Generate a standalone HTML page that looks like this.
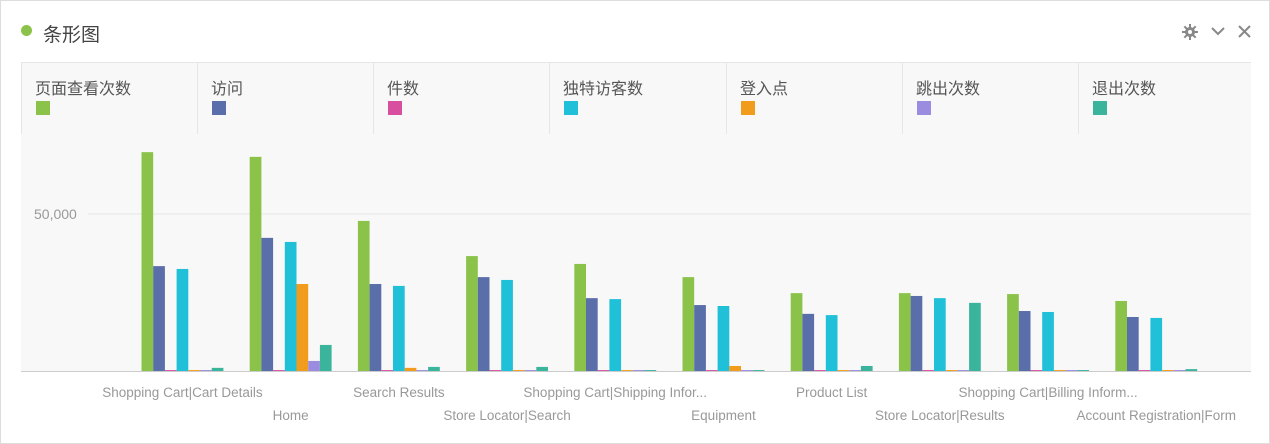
<!DOCTYPE html>
<html><head><meta charset="utf-8">
<style>
body{margin:0;background:#fff;font-family:"Liberation Sans","Noto Sans CJK SC",sans-serif;}
#card{position:absolute;left:0;top:0;width:1268px;height:442px;border:1px solid #ddd;background:#fff;}
.title{position:absolute;left:42px;top:19px;font-size:19px;color:#444;}
.dot{position:absolute;left:20px;top:24px;width:11px;height:11px;border-radius:50%;background:#8bc34a;}
.leg{position:absolute;top:61px;height:72px;border-left:1px solid #e6e6e6;border-top:1px solid #e6e6e6;box-sizing:border-box;}
.leg span{position:absolute;left:13px;top:12px;font-size:16px;color:#555;white-space:nowrap;}
.leg i{position:absolute;left:14px;top:38px;width:14px;height:14px;}
</style></head><body>
<div id="card">
<div class="dot"></div>
<div class="title">条形图</div>
<svg style="position:absolute;left:1180px;top:22px" width="80" height="18">
<g fill="#888"><circle cx="9" cy="9" r="5"/><circle cx="9" cy="9" r="2" fill="#fff"/>
<rect x="8" y="1" width="2" height="16"/><rect x="1" y="8" width="16" height="2"/><rect x="8" y="1" width="2" height="16" transform="rotate(45 9 9)"/><rect x="8" y="1" width="2" height="16" transform="rotate(-45 9 9)"/><circle cx="9" cy="9" r="2" fill="#fff"/></g>
<path d="M31 5 L37 11 L43 5" stroke="#888" stroke-width="2" fill="none"/>
<path d="M58 3 L69 14 M69 3 L58 14" stroke="#888" stroke-width="2"/>
</svg>
<svg id="chart" style="position:absolute;left:0;top:0" width="1268" height="442"></svg>
<div id="legend"></div>
</div>
<script>
const categories=["Shopping Cart|Cart Details","Home","Search Results","Store Locator|Search","Shopping Cart|Shipping Infor...","Equipment","Product List","Store Locator|Results","Shopping Cart|Billing Inform...","Account Registration|Form"];
const seriesNames=["页面查看次数","访问","件数","独特访客数","登入点","跳出次数","退出次数"];
const colors=["#8bc34a","#5a6eaa","#d94fa0","#1fc0d8","#f29c1e","#9b8ce0","#3bb49c"];
const pageViews=[69700,68200,47800,36600,34100,29900,24800,24800,24500,22300];
const visits=[33400,42400,27700,29900,23200,21000,18200,23900,19100,17200];
const items=[300,300,300,300,300,300,300,300,300,300];
const uniqueVisitors=[32500,41100,27100,29000,22900,20700,17800,23200,18800,16900];
const entries=[300,27700,1000,300,300,1600,300,300,300,300];
const bounces=[300,3200,300,300,300,300,300,300,300,300];
const exits=[1000,8300,1300,1300,300,300,1600,21700,300,600];
const series=[pageViews,visits,items,uniqueVisitors,entries,bounces,exits];
const yTicks=[50000];
const yTickLabels=["50,000"];

const NS="http://www.w3.org/2000/svg";
const svg=document.getElementById('chart');
const base=370,pxPer=157/50000,bandStart=127,band=108.2,barW=11.7,padIn=13.5;
const y=v=>base-v*pxPer;
const x=(i,s)=>bandStart+i*band+padIn+s*barW;
function el(t,a){const e=document.createElementNS(NS,t);for(const k in a)e.setAttribute(k,a[k]);svg.appendChild(e);return e;}
const bg=el('rect',{x:20,y:61,width:1230,height:310,fill:'#f8f8f8'});


yTicks.forEach((t,i)=>{
 const g=el('line',{x1:87,x2:1250,y1:y(t),y2:y(t),stroke:'#e6e6e6'});
 
 
 const l=el('text',{x:33,y:y(t)+5,'font-size':14,fill:'#999','font-family':'Liberation Sans, sans-serif'});
 l.textContent=yTickLabels[i];
 
 
});
series.forEach((vals,s)=>{
 vals.forEach((v,i)=>{
  const r=el('rect',{x:x(i,s),y:y(v),width:barW,height:base-y(v),fill:colors[s]});
  
  
 });
});
const ax=el('line',{x1:20,x2:1250,y1:base+0.5,y2:base+0.5,stroke:'#ccc'});


categories.forEach((c,i)=>{
 const t=el('text',{x:bandStart+i*band+padIn+3.5*barW,y:i%2?419:396,'text-anchor':'middle','font-size':13.5,fill:'#999','font-family':'Liberation Sans, sans-serif'});
 t.textContent=c;
 
 
});
const lg=document.getElementById('legend');
const lx=[20,196,372,548,725,901,1077,1250];
seriesNames.forEach((n,i)=>{
 const d=document.createElement('div');
 d.className='leg';
 d.style.left=lx[i]+'px';d.style.width=(lx[i+1]-lx[i])+'px';
 
 
 d.innerHTML='<span>'+n+'</span><i style="background:'+colors[i]+'"></i>';
 lg.appendChild(d);
});
</script>
</body></html>
